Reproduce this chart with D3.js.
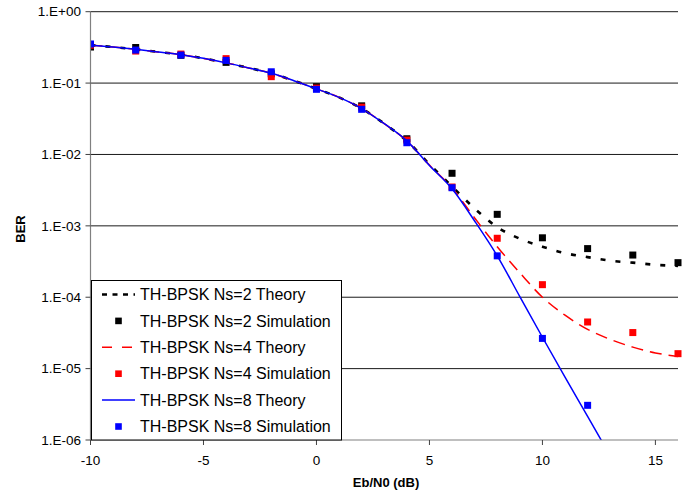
<!DOCTYPE html>
<html>
<head>
<meta charset="utf-8">
<script src="https://cdn.jsdelivr.net/npm/d3@7"></script>
<style>
  html, body { margin: 0; padding: 0; background: #fff; }
  svg { display: block; font-family: "Liberation Sans", Arial, sans-serif; }
</style>
</head>
<body>
<svg id="chart" width="700" height="493"></svg>
<script>
// Simulated operating points (Eb/N0 in dB)
const ebn0Sim = [-10, -8, -6, -4, -2, 0, 2, 4, 6, 8, 10, 12, 14, 16];
const simNs2 = [0.32, 0.315, 0.245, 0.195, 0.135, 0.089, 0.048, 0.0166, 0.00545, 0.00145, 0.00068, 0.00048, 0.00039, 0.000305];
const simNs4 = [0.34, 0.281, 0.255, 0.22, 0.123, 0.085, 0.046, 0.0159, 0.0035, 0.00067, 0.00015, 0.000045, 0.000032, 0.0000162];
const simNs8 = [0.353, 0.29, 0.247, 0.208, 0.144, 0.0818, 0.0429, 0.0146, 0.00342, 0.00038, 0.0000265, 0.00000306, null, null];

// Theoretical curves sampled every 1 dB
const ebn0Theory = [-10, -9, -8, -7, -6, -5, -4, -3, -2, -1, 0, 1, 2, 3, 4, 5, 6, 7, 8, 9, 10, 11, 12, 13, 14, 15, 16];
const theoryNs2 = [0.34, 0.32, 0.297, 0.273, 0.25, 0.222, 0.192, 0.163, 0.137, 0.108, 0.083, 0.063, 0.044, 0.027, 0.0155,
                   0.0073, 0.00357, 0.00175, 0.00096, 0.00066, 0.00051, 0.000415, 0.000365, 0.000325, 0.000305, 0.000285, 0.000275];
const theoryNs4 = [0.34, 0.32, 0.297, 0.273, 0.25, 0.222, 0.192, 0.163, 0.137, 0.108, 0.083, 0.063, 0.044, 0.027, 0.0155,
                   0.0071, 0.0034, 0.00129, 0.00051, 0.00022, 0.0001, 0.000056, 0.0000355, 0.0000257, 0.00002, 0.0000166, 0.0000148];
const theoryNs8 = [0.34, 0.32, 0.297, 0.273, 0.25, 0.222, 0.192, 0.163, 0.137, 0.108, 0.083, 0.063, 0.044, 0.027, 0.0155,
                   0.007, 0.0033, 0.00117, 0.00038, 0.000102, 0.0000275, 0.0000076, 0.00000214, 0.0000006, null, null, null];

const xTicks = [-10, -5, 0, 5, 10, 15];
const yTicks = [1, 1e-1, 1e-2, 1e-3, 1e-4, 1e-5, 1e-6];
const yTickLabels = ["1.E+00", "1.E-01", "1.E-02", "1.E-03", "1.E-04", "1.E-05", "1.E-06"];

const series = [
  { name: "TH-BPSK Ns=2 Theory", kind: "line", y: theoryNs2, color: "#000000", width: 2.6, dash: "5,10", legendDash: "5,5.5" },
  { name: "TH-BPSK Ns=2 Simulation", kind: "marker", y: simNs2, color: "#000000" },
  { name: "TH-BPSK Ns=4 Theory", kind: "line", y: theoryNs4, color: "#ff0000", width: 1.5, dash: "12,7", legendDash: "10,10" },
  { name: "TH-BPSK Ns=4 Simulation", kind: "marker", y: simNs4, color: "#ff0000" },
  { name: "TH-BPSK Ns=8 Theory", kind: "line", y: theoryNs8, color: "#0000ff", width: 1.5, dash: null, legendDash: null },
  { name: "TH-BPSK Ns=8 Simulation", kind: "marker", y: simNs8, color: "#0000ff" }
];

const svg = d3.select("#chart");
const plot = { left: 90.5, right: 678, top: 11.7, bottom: 440 };

const x = d3.scaleLinear().domain([-10, 16]).range([plot.left, plot.right]);
const y = d3.scaleLog().domain([1e-6, 1]).range([plot.bottom, plot.top]);

svg.append("rect").attr("width", 700).attr("height", 493).attr("fill", "#fff");

svg.append("defs").append("clipPath").attr("id", "plotClip")
  .append("rect")
  .attr("x", plot.left).attr("y", plot.top - 2)
  .attr("width", plot.right - plot.left + 6).attr("height", plot.bottom - plot.top + 2);

// Horizontal gridlines at each decade
svg.append("g").selectAll("line").data(yTicks.slice(0, -1)).join("line")
  .attr("x1", plot.left).attr("x2", plot.right)
  .attr("y1", d => y(d)).attr("y2", d => y(d))
  .attr("stroke", "#1a1a1a").attr("stroke-width", 1);

const marks = svg.append("g").attr("clip-path", "url(#plotClip)");
const msize = 7;

series.forEach(s => {
  if (s.kind === "line") {
    const pts = ebn0Theory.map((e, i) => [e, s.y[i]]).filter(p => p[1] != null);
    const line = d3.line().x(p => x(p[0])).y(p => y(p[1])).curve(d3.curveMonotoneX);
    marks.append("path").datum(pts)
      .attr("d", line).attr("fill", "none")
      .attr("stroke", s.color).attr("stroke-width", s.width)
      .attr("stroke-dasharray", s.dash);
  } else {
    const pts = ebn0Sim.map((e, i) => [e, s.y[i]]).filter(p => p[1] != null);
    marks.append("g").selectAll("rect").data(pts).join("rect")
      .attr("x", p => x(p[0]) - msize / 2).attr("y", p => y(p[1]) - msize / 2)
      .attr("width", msize).attr("height", msize)
      .attr("fill", s.color);
  }
});

// Axes
const yAxis = svg.append("g");
yAxis.append("line").attr("x1", plot.left).attr("x2", plot.left)
  .attr("y1", plot.top).attr("y2", plot.bottom).attr("stroke", "#808080").attr("stroke-width", 1.2);
yAxis.selectAll("line.tick").data(yTicks).join("line").attr("class", "tick")
  .attr("x1", plot.left - 5).attr("x2", plot.left)
  .attr("y1", d => y(d)).attr("y2", d => y(d)).attr("stroke", "#404040");
yAxis.selectAll("text").data(yTicks).join("text")
  .attr("x", 81).attr("y", d => y(d)).attr("dy", "0.35em")
  .attr("text-anchor", "end").attr("font-size", "13.5px").attr("fill", "#000")
  .text((d, i) => yTickLabels[i]);

const xAxis = svg.append("g");
xAxis.append("line").attr("x1", plot.left).attr("x2", plot.right)
  .attr("y1", plot.bottom).attr("y2", plot.bottom).attr("stroke", "#808080").attr("stroke-width", 1.2);
xAxis.selectAll("line.tick").data(xTicks).join("line").attr("class", "tick")
  .attr("x1", d => x(d)).attr("x2", d => x(d))
  .attr("y1", plot.bottom).attr("y2", plot.bottom + 5).attr("stroke", "#404040");
xAxis.selectAll("text").data(xTicks).join("text")
  .attr("x", d => x(d)).attr("y", 460).attr("dy", "0.35em")
  .attr("text-anchor", "middle").attr("font-size", "13.5px").attr("fill", "#000")
  .text(d => d);

// Axis titles
svg.append("text").attr("x", 386).attr("y", 482).attr("dy", "0.35em")
  .attr("text-anchor", "middle").attr("font-size", "13px").attr("font-weight", "bold")
  .text("Eb/N0 (dB)");
svg.append("text").attr("transform", "translate(20,229) rotate(-90)").attr("dy", "0.35em")
  .attr("text-anchor", "middle").attr("font-size", "13px").attr("font-weight", "bold")
  .text("BER");

// Legend
const lg = svg.append("g");
lg.append("rect").attr("x", 91.5).attr("y", 280.5).attr("width", 250).attr("height", 159.5)
  .attr("fill", "#fff").attr("stroke", "#000").attr("stroke-width", 1);
const rowY = i => 294.5 + i * 26.4;
series.forEach((s, i) => {
  const row = lg.append("g");
  if (s.kind === "line") {
    row.append("line").attr("x1", 102).attr("x2", 135)
      .attr("y1", rowY(i)).attr("y2", rowY(i))
      .attr("stroke", s.color).attr("stroke-width", s.width)
      .attr("stroke-dasharray", s.legendDash);
  } else {
    row.append("rect").attr("x", 118.5 - 3.3).attr("y", rowY(i) - 3.3)
      .attr("width", 6.6).attr("height", 6.6).attr("fill", s.color);
  }
  row.append("text").attr("x", 140).attr("y", rowY(i)).attr("dy", "0.36em")
    .attr("font-size", "16px").attr("fill", "#000").text(s.name);
});
</script>
</body>
</html>
